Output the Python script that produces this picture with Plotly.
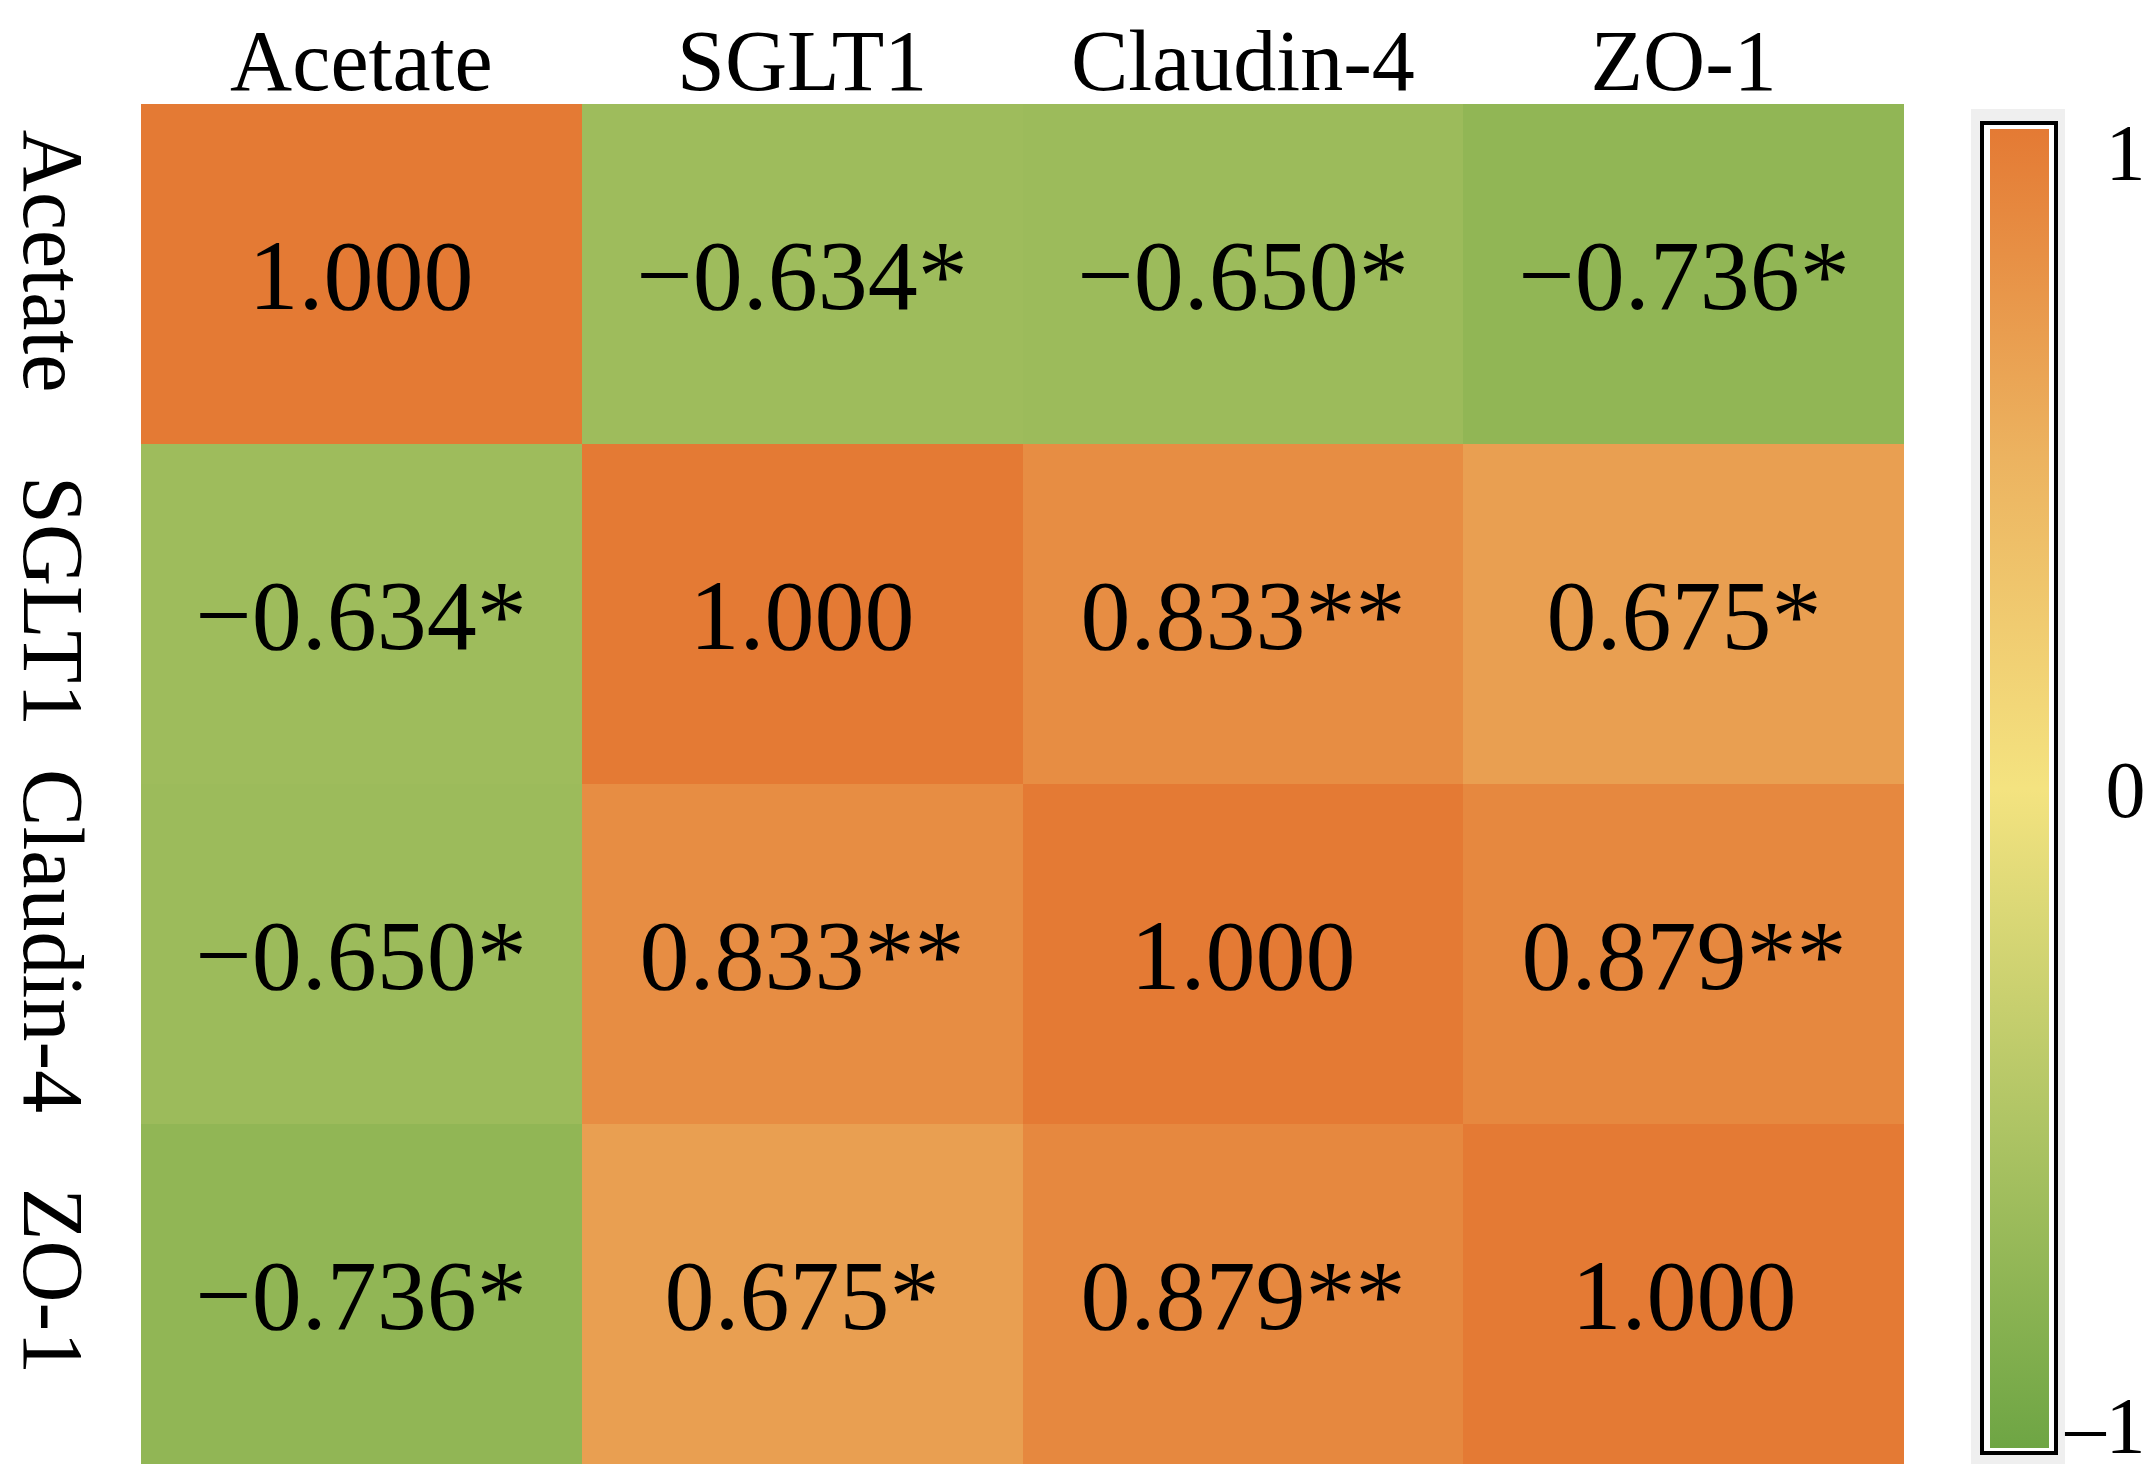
import plotly.graph_objects as go

# correlation matrix (Pearson r) and significance marks
names = ['Acetate', 'SGLT1', 'Claudin-4', 'ZO-1']
r_values = [
    [1.000, -0.634, -0.650, -0.736],
    [-0.634, 1.000, 0.833, 0.675],
    [-0.650, 0.833, 1.000, 0.879],
    [-0.736, 0.675, 0.879, 1.000],
]
stars = [
    ['', '*', '*', '*'],
    ['*', '', '**', '*'],
    ['*', '**', '', '**'],
    ['*', '*', '**', ''],
]
cbar_ticktext = ['\u20131', '\u00a0\u00a00', '\u00a0\u00a01']

W, H = 2154, 1464
FONT = 'Liberation Serif'


def px_x(p):
    return p / W


def px_y(p):
    return 1 - p / H


labels = [[f'{v:.3f}{s}'.replace('-', '\u2212') for v, s in zip(row, srow)]
          for row, srow in zip(r_values, stars)]

colorscale = [
    [0.0, '#6EA544'],
    [0.25, '#B0C565'],
    [0.5, '#F4E380'],
    [0.75, '#ECB360'],
    [1.0, '#E47A34'],
]

fig = go.Figure(go.Heatmap(
    z=r_values, x=names, y=names,
    text=labels, texttemplate='%{text}',
    textfont=dict(family=FONT, size=100, color='black'),
    colorscale=colorscale, zmin=-1, zmax=1,
    colorbar=dict(
        thickness=59, thicknessmode='pixels',
        len=1319, lenmode='pixels',
        x=px_x(1982), xanchor='left', xpad=0,
        y=px_y(1440), yanchor='bottom', ypad=0,
        outlinewidth=0,
        tickvals=[-0.965, 0, 0.965], ticktext=cbar_ticktext,
        ticks='',
        ticklabeloverflow='allow',
        tickfont=dict(family=FONT, size=80, color='black'),
    ),
))

# grey frame + black border around colour bar
fig.add_shape(type='rect', xref='paper', yref='paper',
              x0=px_x(1963), x1=px_x(2057), y0=px_y(1457), y1=px_y(101),
              fillcolor='#EFEFEF', line_width=0)
fig.add_shape(type='rect', xref='paper', yref='paper',
              x0=px_x(1974), x1=px_x(2048), y0=px_y(1445), y1=px_y(115),
              fillcolor='white', line=dict(color='black', width=4))

fig.update_layout(
    width=W, height=H,
    margin=dict(l=0, r=0, t=0, b=0, autoexpand=False),
    paper_bgcolor='white', plot_bgcolor='white',
    font=dict(family=FONT, color='black'),
    xaxis=dict(domain=[px_x(133), px_x(1896)], side='top', automargin=False,
               showgrid=False, zeroline=False, showline=False, ticks='',
               tickfont=dict(size=86), ticklabelstandoff=-4),
    yaxis=dict(domain=[px_y(1456), px_y(96)], autorange='reversed',
               automargin=False,
               showgrid=False, zeroline=False, showline=False, ticks='',
               tickangle=90, tickfont=dict(size=86), ticklabelstandoff=30),
)

fig.write_html('out.html')
